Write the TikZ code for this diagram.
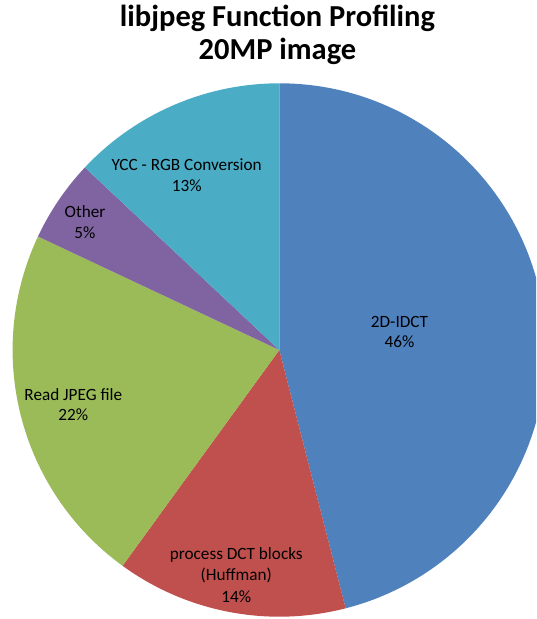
\documentclass[tikz,border=0pt]{standalone}
\usepackage{fontspec}
\setmainfont{Carlito}
\definecolor{sliceblue}{HTML}{4F81BD}
\definecolor{slicered}{HTML}{C0504D}
\definecolor{slicegreen}{HTML}{9BBB59}
\definecolor{slicepurple}{HTML}{8064A2}
\definecolor{sliceaqua}{HTML}{4BACC6}
\begin{document}
\begin{tikzpicture}[x=1pt,y=1pt,
  slicelabel/.style={align=center,inner sep=0pt,font=\fontsize{17.2}{20.6}\selectfont},
  titletext/.style={align=center,inner sep=0pt,font=\fontsize{30.5}{33.5}\selectfont\bfseries}]
\useasboundingbox (0,0) rectangle (536,-619);
\clip (0,0) rectangle (536,-619);
\def\R{266.7}
\coordinate (c) at (279.3,-350);
% pie slices, clockwise from the top
\fill[sliceblue]   (c) -- ++(90:\R)     arc[start angle=90,     end angle=-75.6,  radius=\R] -- cycle;
\fill[slicered]    (c) -- ++(-75.6:\R)  arc[start angle=-75.6,  end angle=-126,   radius=\R] -- cycle;
\fill[slicegreen]  (c) -- ++(-126:\R)   arc[start angle=-126,   end angle=-205.2, radius=\R] -- cycle;
\fill[slicepurple] (c) -- ++(-205.2:\R) arc[start angle=-205.2, end angle=-223.2, radius=\R] -- cycle;
\fill[sliceaqua]   (c) -- ++(-223.2:\R) arc[start angle=-223.2, end angle=-270,   radius=\R] -- cycle;
% title
\node[titletext] (title) at (277.5,-35) {libjpeg Function Profiling\\20MP image};
% slice labels
\node[slicelabel] (idct)  at (399.5,-332) {2D-IDCT\\46\%};
\node[slicelabel] (ycc)   at (186.7,-175) {YCC - RGB Conversion\\13\%};
\node[slicelabel] (other) at (85,-222)    {Other\\5\%};
\node[slicelabel] (read)  at (73.3,-404.5) {Read JPEG file\\22\%};
\node[slicelabel,font=\fontsize{17.2}{21.3}\selectfont] (dct) at (236.3,-575) {process DCT blocks\\(Huffman)\\14\%};
\end{tikzpicture}
\end{document}
